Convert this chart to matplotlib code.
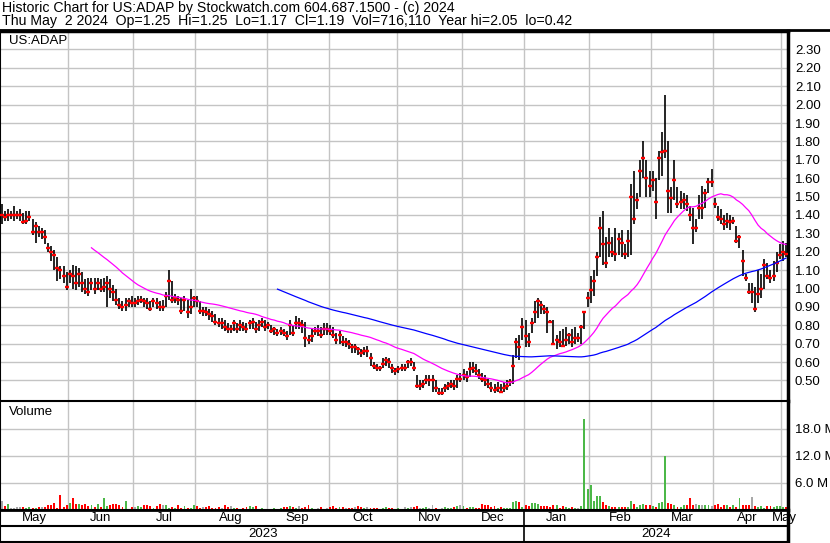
import numpy as np
import pandas as pd
import matplotlib
matplotlib.use("Agg")
import matplotlib.pyplot as plt

plt.rcParams['font.family'] = ['Liberation Sans', 'DejaVu Sans']

# trading days May 1 2023 - May 2 2024 (NYSE holidays removed)
holidays = ["2023-05-29", "2023-06-19", "2023-07-04", "2023-09-04", "2023-11-23",
            "2023-12-25", "2024-01-01", "2024-01-15", "2024-02-19", "2024-03-29"]
days = pd.bdate_range("2023-05-01", "2024-05-02")
days = days[~days.isin(pd.to_datetime(holidays))]

# closes / highs / lows per month
c_may23 = [1.40, 1.39, 1.40, 1.40, 1.40, 1.40, 1.40, 1.36, 1.37, 1.39, 1.31, 1.34, 1.31, 1.31, 1.28, 1.22, 1.20, 1.18, 1.11, 1.10, 1.07, 1.01]
h_may23 = [1.46, 1.42, 1.43, 1.42, 1.45, 1.42, 1.43, 1.41, 1.42, 1.42, 1.38, 1.36, 1.34, 1.33, 1.32, 1.25, 1.23, 1.21, 1.17, 1.12, 1.12, 1.09]
l_may23 = [1.35, 1.37, 1.37, 1.38, 1.37, 1.38, 1.37, 1.35, 1.35, 1.37, 1.29, 1.25, 1.28, 1.27, 1.24, 1.20, 1.15, 1.10, 1.04, 1.05, 1.03, 0.99]

c_jun23 = [1.08, 1.07, 1.03, 1.08, 1.03, 1.00, 0.98, 1.03, 1.00, 1.03, 1.00, 1.01, 1.03, 1.00, 0.98, 0.94, 0.91, 0.90, 0.91, 0.93, 0.92]
h_jun23 = [1.10, 1.13, 1.12, 1.11, 1.09, 1.05, 1.06, 1.06, 1.06, 1.06, 1.05, 1.06, 1.07, 1.05, 1.02, 1.00, 0.95, 0.93, 0.95, 0.95, 0.96]
l_jun23 = [1.03, 1.00, 0.99, 1.01, 0.98, 0.97, 0.96, 0.99, 0.97, 0.99, 0.98, 0.98, 0.90, 0.95, 0.93, 0.91, 0.89, 0.88, 0.88, 0.90, 0.90]

c_jul23 = [0.92, 0.93, 0.94, 0.93, 0.92, 0.89, 0.93, 0.92, 0.90, 0.90, 0.96, 1.04, 0.94, 0.95, 0.94, 0.88, 0.94, 0.87, 0.90, 0.95]
h_jul23 = [0.95, 0.96, 0.96, 0.95, 0.95, 0.93, 0.95, 0.95, 0.93, 0.94, 0.98, 1.10, 1.04, 0.97, 0.96, 0.95, 0.96, 0.94, 1.00, 0.96]
l_jul23 = [0.90, 0.91, 0.92, 0.90, 0.89, 0.88, 0.90, 0.89, 0.88, 0.88, 0.90, 0.94, 0.92, 0.92, 0.91, 0.86, 0.88, 0.84, 0.86, 0.90]

c_aug23 = [0.93, 0.88, 0.88, 0.87, 0.86, 0.85, 0.82, 0.81, 0.81, 0.79, 0.78, 0.78, 0.81, 0.78, 0.80, 0.79, 0.78, 0.81, 0.82, 0.78, 0.80, 0.82, 0.79]
h_aug23 = [0.96, 0.93, 0.90, 0.90, 0.89, 0.88, 0.86, 0.84, 0.84, 0.83, 0.81, 0.80, 0.83, 0.81, 0.83, 0.82, 0.81, 0.83, 0.84, 0.82, 0.83, 0.84, 0.83]
l_aug23 = [0.90, 0.86, 0.85, 0.85, 0.83, 0.82, 0.80, 0.79, 0.78, 0.77, 0.76, 0.76, 0.77, 0.76, 0.77, 0.77, 0.76, 0.78, 0.78, 0.76, 0.77, 0.79, 0.77]

c_sep23 = [0.80, 0.77, 0.78, 0.76, 0.77, 0.76, 0.74, 0.80, 0.76, 0.81, 0.81, 0.80, 0.73, 0.72, 0.74, 0.77, 0.77, 0.75, 0.78, 0.78]
h_sep23 = [0.82, 0.80, 0.79, 0.78, 0.79, 0.78, 0.77, 0.83, 0.80, 0.85, 0.84, 0.83, 0.82, 0.75, 0.78, 0.79, 0.80, 0.79, 0.81, 0.81]
l_sep23 = [0.78, 0.76, 0.75, 0.74, 0.75, 0.74, 0.72, 0.75, 0.74, 0.78, 0.78, 0.76, 0.68, 0.70, 0.71, 0.75, 0.74, 0.73, 0.75, 0.75]

c_oct23 = [0.77, 0.75, 0.72, 0.75, 0.71, 0.71, 0.70, 0.68, 0.68, 0.67, 0.65, 0.66, 0.66, 0.62, 0.58, 0.57, 0.57, 0.59, 0.61, 0.60, 0.57, 0.55]
h_oct23 = [0.80, 0.79, 0.76, 0.77, 0.74, 0.73, 0.72, 0.70, 0.70, 0.68, 0.67, 0.68, 0.69, 0.65, 0.60, 0.59, 0.58, 0.62, 0.63, 0.62, 0.59, 0.57]
l_oct23 = [0.75, 0.73, 0.70, 0.70, 0.69, 0.68, 0.67, 0.65, 0.65, 0.64, 0.63, 0.64, 0.63, 0.58, 0.56, 0.55, 0.55, 0.57, 0.58, 0.57, 0.54, 0.53]

c_nov23 = [0.56, 0.57, 0.57, 0.60, 0.60, 0.57, 0.47, 0.47, 0.48, 0.50, 0.50, 0.50, 0.46, 0.43, 0.43, 0.46, 0.47, 0.48, 0.47, 0.51, 0.51]
h_nov23 = [0.58, 0.59, 0.59, 0.61, 0.62, 0.60, 0.53, 0.50, 0.50, 0.53, 0.53, 0.53, 0.50, 0.46, 0.46, 0.48, 0.49, 0.50, 0.50, 0.53, 0.54]
l_nov23 = [0.54, 0.55, 0.55, 0.57, 0.58, 0.55, 0.46, 0.45, 0.46, 0.48, 0.47, 0.44, 0.44, 0.42, 0.42, 0.44, 0.45, 0.46, 0.45, 0.46, 0.49]

c_dec23 = [0.53, 0.52, 0.56, 0.57, 0.55, 0.53, 0.51, 0.50, 0.48, 0.46, 0.45, 0.46, 0.44, 0.46, 0.47, 0.49, 0.58, 0.71, 0.68, 0.79]
h_dec23 = [0.56, 0.55, 0.60, 0.60, 0.59, 0.56, 0.54, 0.53, 0.51, 0.49, 0.48, 0.49, 0.48, 0.49, 0.50, 0.51, 0.64, 0.73, 0.75, 0.84]
l_dec23 = [0.50, 0.49, 0.52, 0.54, 0.53, 0.51, 0.49, 0.47, 0.46, 0.44, 0.43, 0.44, 0.43, 0.44, 0.45, 0.47, 0.48, 0.62, 0.61, 0.72]

c_jan24 = [0.74, 0.71, 0.81, 0.87, 0.93, 0.91, 0.89, 0.87, 0.82, 0.70, 0.72, 0.71, 0.69, 0.72, 0.75, 0.71, 0.73, 0.73, 0.79, 0.87, 0.95]
h_jan24 = [0.83, 0.76, 0.84, 0.93, 0.95, 0.93, 0.91, 0.90, 0.83, 0.83, 0.75, 0.77, 0.78, 0.79, 0.76, 0.78, 0.79, 0.76, 0.80, 0.88, 0.98]
l_jan24 = [0.68, 0.68, 0.76, 0.81, 0.84, 0.86, 0.86, 0.76, 0.81, 0.70, 0.67, 0.68, 0.69, 0.69, 0.70, 0.68, 0.70, 0.71, 0.70, 0.78, 0.90]

c_feb24 = [0.99, 1.04, 1.17, 1.33, 1.24, 1.14, 1.25, 1.20, 1.19, 1.27, 1.25, 1.19, 1.26, 1.50, 1.38, 1.48, 1.64, 1.71, 1.60, 1.56]
h_feb24 = [1.07, 1.10, 1.20, 1.39, 1.42, 1.28, 1.33, 1.28, 1.33, 1.30, 1.32, 1.24, 1.32, 1.57, 1.64, 1.52, 1.70, 1.80, 1.70, 1.64]
l_feb24 = [0.92, 0.96, 1.07, 1.17, 1.13, 1.11, 1.17, 1.17, 1.15, 1.18, 1.17, 1.16, 1.17, 1.18, 1.35, 1.43, 1.50, 1.60, 1.50, 1.50]

c_mar24 = [1.59, 1.47, 1.71, 1.74, 1.75, 1.53, 1.49, 1.59, 1.46, 1.47, 1.48, 1.46, 1.40, 1.33, 1.33, 1.44, 1.44, 1.52, 1.58, 1.58]
h_mar24 = [1.64, 1.60, 1.75, 1.85, 2.05, 1.80, 1.55, 1.70, 1.55, 1.53, 1.52, 1.51, 1.45, 1.44, 1.38, 1.51, 1.56, 1.54, 1.60, 1.65]
l_mar24 = [1.53, 1.38, 1.59, 1.61, 1.71, 1.41, 1.41, 1.48, 1.44, 1.43, 1.43, 1.42, 1.37, 1.24, 1.31, 1.38, 1.38, 1.44, 1.52, 1.55]

c_apr24 = [1.46, 1.39, 1.38, 1.35, 1.37, 1.36, 1.37, 1.26, 1.28, 1.15, 1.06, 0.98, 0.98, 0.89, 0.97, 1.00, 1.13, 1.07, 1.06, 1.07, 1.14, 1.18]
h_apr24 = [1.49, 1.45, 1.43, 1.40, 1.41, 1.40, 1.39, 1.34, 1.29, 1.21, 1.08, 1.03, 1.03, 1.01, 1.10, 1.08, 1.16, 1.14, 1.10, 1.15, 1.20, 1.24]
l_apr24 = [1.44, 1.37, 1.35, 1.32, 1.33, 1.32, 1.35, 1.25, 1.22, 1.07, 1.04, 0.97, 0.92, 0.87, 0.92, 0.95, 1.00, 1.05, 1.03, 1.04, 1.09, 1.16]

c_may24 = [1.20, 1.19]
h_may24 = [1.26, 1.25]
l_may24 = [1.15, 1.17]

# volume in millions
v_may23 = [2.1, 0.9, 1.4, 0.4, 0.5, 0.6, 0.6, 0.6, 0.5, 0.6, 0.5, 0.5, 0.7, 0.6, 0.7, 1.1, 1.2, 1.6, 0.4, 3.4, 0.6, 1.2]
v_jun23 = [1.6, 2.6, 1.3, 1.3, 1.1, 1.3, 0.9, 1.0, 0.6, 1.3, 0.7, 2.6, 0.9, 1.2, 1.3, 1.3, 1.2, 0.6, 2.1, 0.3, 0.7]
v_jul23 = [0.6, 0.9, 0.7, 1.2, 1.0, 0.8, 0.5, 0.9, 1.3, 1.2, 1.0, 0.5, 0.7, 0.4, 1.0, 0.5, 0.8, 0.5, 0.5, 1.2]
v_aug23 = [0.8, 0.5, 0.7, 0.6, 0.8, 0.5, 0.4, 0.6, 0.4, 1.0, 0.6, 0.8, 0.4, 0.5, 0.3, 0.5, 0.7, 0.8, 0.6, 0.8, 0.3, 0.4, 0.2]
v_sep23 = [0.3, 0.2, 0.5, 0.3, 0.4, 0.6, 0.7, 0.8, 0.6, 0.5, 0.8, 0.5, 0.6, 1.2, 0.5, 0.3, 0.5, 0.6, 0.3, 0.5]
v_oct23 = [0.7, 0.8, 0.5, 0.6, 0.7, 0.4, 0.5, 0.5, 0.6, 0.8, 0.7, 0.5, 0.6, 0.5, 0.4, 0.5, 0.3, 0.5, 0.6, 0.4, 0.5, 0.3]
v_nov23 = [0.5, 0.3, 0.6, 0.5, 0.7, 0.6, 0.8, 0.5, 0.5, 0.6, 0.4, 1.0, 0.4, 0.3, 0.5, 0.6, 0.4, 0.5, 0.6, 0.9, 1.1]
v_dec23 = [0.8, 0.5, 0.6, 0.7, 0.5, 0.5, 1.4, 1.2, 1.0, 0.7, 0.8, 0.5, 0.7, 0.4, 0.5, 0.5, 1.8, 2.0, 1.7, 0.6]
v_jan24 = [1.2, 0.8, 1.6, 1.5, 1.3, 0.9, 0.8, 0.8, 0.6, 1.0, 1.0, 0.5, 0.9, 0.7, 0.5, 0.6, 0.5, 0.4, 0.9, 20.2, 4.6]
v_feb24 = [5.6, 2.1, 3.1, 3.1, 1.8, 1.2, 0.9, 0.7, 0.7, 0.6, 0.6, 0.6, 0.7, 2.1, 1.4, 0.7, 1.2, 1.4, 1.2, 1.0]
v_mar24 = [0.8, 0.6, 1.5, 1.8, 12.1, 1.6, 1.3, 1.0, 0.6, 0.7, 1.0, 1.1, 2.6, 1.0, 1.4, 1.0, 1.0, 1.0, 1.0, 0.9]
v_apr24 = [1.0, 1.4, 0.7, 1.0, 1.2, 0.6, 1.2, 0.7, 2.7, 1.0, 1.0, 1.0, 2.8, 0.9, 0.7, 0.9, 0.5, 0.9, 0.9, 0.6, 0.8, 0.8]
v_may24 = [0.6, 0.72]

month_names = ["May", "Jun", "Jul", "Aug", "Sep", "Oct", "Nov", "Dec",
               "Jan", "Feb", "Mar", "Apr", "May"]
price_ticks = np.round(np.arange(0.5, 2.31, 0.1), 2)
vol_ticks = [6.0, 12.0, 18.0]

close = np.array(c_may23 + c_jun23 + c_jul23 + c_aug23 + c_sep23 + c_oct23 + c_nov23
                 + c_dec23 + c_jan24 + c_feb24 + c_mar24 + c_apr24 + c_may24)
high = np.array(h_may23 + h_jun23 + h_jul23 + h_aug23 + h_sep23 + h_oct23 + h_nov23
                + h_dec23 + h_jan24 + h_feb24 + h_mar24 + h_apr24 + h_may24)
low = np.array(l_may23 + l_jun23 + l_jul23 + l_aug23 + l_sep23 + l_oct23 + l_nov23
               + l_dec23 + l_jan24 + l_feb24 + l_mar24 + l_apr24 + l_may24)
vol = np.array(v_may23 + v_jun23 + v_jul23 + v_aug23 + v_sep23 + v_oct23 + v_nov23
               + v_dec23 + v_jan24 + v_feb24 + v_mar24 + v_apr24 + v_may24)
assert len(close) == len(high) == len(low) == len(vol) == len(days)

x = np.arange(len(days))
ma30 = pd.Series(close).rolling(30).mean()
ma90 = pd.Series(close).rolling(90).mean()

# month starts / centres in bar index
ym = days.to_period("M")
month_start = [i for i in range(len(days)) if i == 0 or ym[i] != ym[i - 1]]
month_end = month_start[1:] + [len(days)]
month_mid = [(a + b - 1) / 2 for a, b in zip(month_start, month_end)]
grid_x = [s - 0.5 for s in month_start[1:]]
jan_start = month_start[8] - 0.5

# volume colours: up green, down red, unchanged grey
dif = np.diff(close, prepend=np.nan)
vcol = np.where(dif > 0, "#4cb848", np.where(dif < 0, "#ff0000", "#a8a8a8"))

W, H = 830.0, 543.0
def box(x0, y0, x1, y1):
    return [x0 / W, 1 - y1 / H, (x1 - x0) / W, (y1 - y0) / H]

fig = plt.figure(figsize=(8.3, 5.43), dpi=100)
ax = fig.add_axes(box(0, 31, 788, 401))
axv = fig.add_axes(box(0, 401, 788, 510))
axm = fig.add_axes(box(0, 510, 788, 542))

xlim = (-0.5, len(days) - 0.35)
gridc = "#c4c4c4"
fs = 9.5

# price panel
for g in grid_x:
    ax.axvline(g, color=gridc, lw=1.0, zorder=0)
for t in price_ticks:
    ax.axhline(t, color=gridc, lw=1.0, zorder=0)
ax.vlines(x, low, high, color="black", lw=1.2, zorder=2)
ax.plot(x, close, "_", color="red", ms=2.8, mew=1.7, zorder=3)
ax.plot(x, ma30, color="#ff00ff", lw=0.9, zorder=4)
ax.plot(x, ma90, color="#0000ff", lw=0.9, zorder=4)
ax.set_xlim(xlim)
ax.set_ylim(0.3885, 2.4005)
ax.set_xticks([])
ax.yaxis.tick_right()
ax.set_yticks(price_ticks)
ax.set_yticklabels(["%.2f" % t for t in price_ticks])
ax.tick_params(axis="y", length=0, pad=5, labelsize=fs)
ax.text(0.011, 0.988, "US:ADAP", transform=ax.transAxes, ha="left", va="top", fontsize=fs)

# volume panel
for g in grid_x:
    axv.axvline(g, color=gridc, lw=1.0, zorder=0)
for t in vol_ticks:
    axv.axhline(t, color=gridc, lw=1.0, zorder=0)
axv.bar(x, vol, width=0.62, color=vcol, zorder=2)
axv.set_xlim(xlim)
axv.set_ylim(0, 24.2)
axv.set_xticks([])
axv.yaxis.tick_right()
axv.set_yticks(vol_ticks)
axv.set_yticklabels(["%.1f M" % t for t in vol_ticks])
axv.tick_params(axis="y", length=0, pad=5, labelsize=fs)
axv.text(0.011, 0.95, "Volume", transform=axv.transAxes, ha="left", va="top", fontsize=fs)

# month / year label rows
axm.set_xlim(xlim)
axm.set_ylim(0, 2)
axm.set_xticks([])
axm.set_yticks([])
axm.axhline(1.0, color="black", lw=1.5)
axm.axvline(jan_start, color="black", lw=1.2)
for m, name in zip(month_mid, month_names):
    axm.text(m, 1.5, name, ha="center", va="center", fontsize=fs, clip_on=False)
axm.text((0 + jan_start) / 2, 0.5, "2023", ha="center", va="center", fontsize=fs)
axm.text((jan_start + len(days) - 0.5) / 2, 0.5, "2024", ha="center", va="center", fontsize=fs)

for a in (ax, axv, axm):
    for s in a.spines.values():
        s.set_color("black")
        s.set_linewidth(1.5)
    a.spines["right"].set_linewidth(2.5)
ax.spines["top"].set_linewidth(2.5)
ax.spines["bottom"].set_linewidth(2.0)
axm.spines["top"].set_linewidth(2.0)

fig.text(2 / W, 1 - 8 / H, "Historic Chart for US:ADAP by Stockwatch.com 604.687.1500 - (c) 2024",
         ha="left", va="center", fontsize=10.2)
fig.text(2 / W, 1 - 21.5 / H,
         "Thu May  2 2024  Op=1.25  Hi=1.25  Lo=1.17  Cl=1.19  Vol=716,110  Year hi=2.05  lo=0.42",
         ha="left", va="center", fontsize=10.2)
fig.add_artist(plt.Line2D([0, 1], [1 - 30 / H, 1 - 30 / H], color="black", lw=2.0))

fig.savefig("out.png", dpi=100)
